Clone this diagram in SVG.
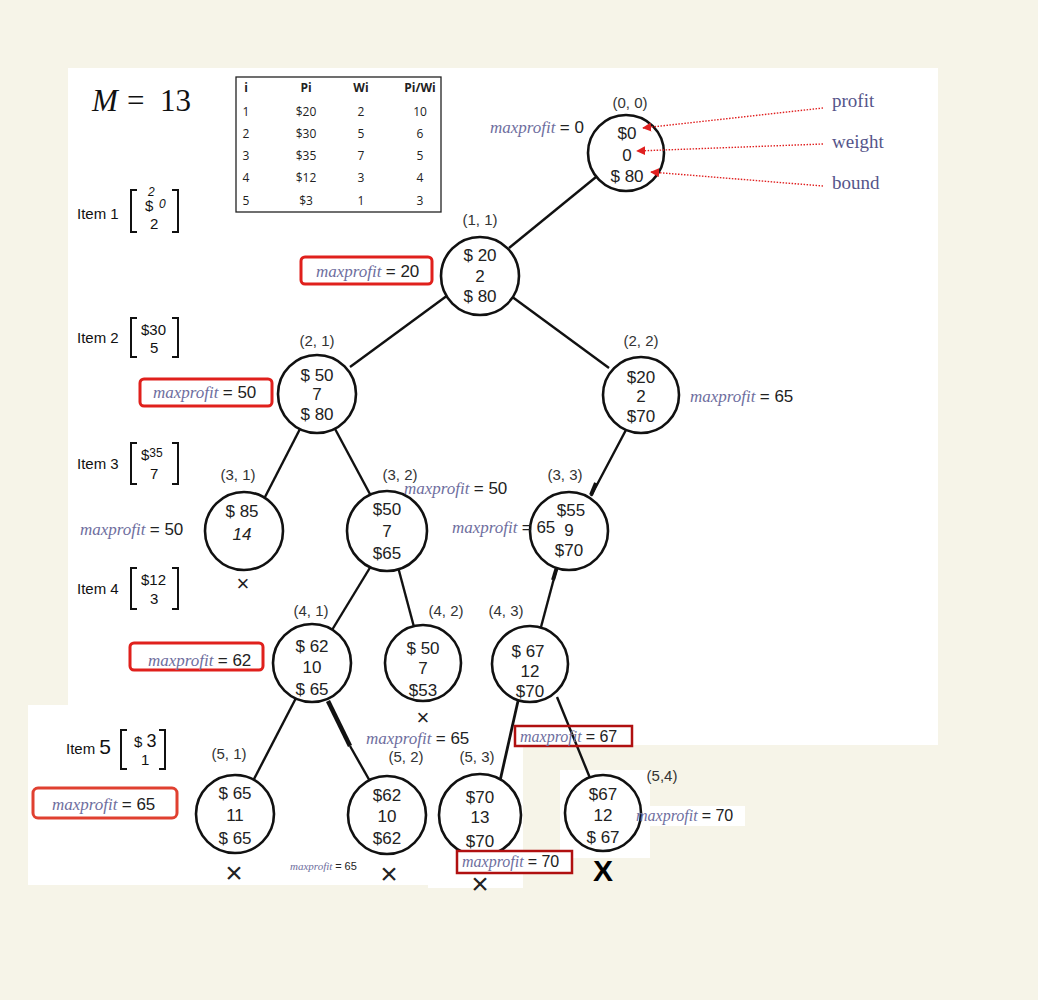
<svg xmlns="http://www.w3.org/2000/svg" width="1038" height="1000" viewBox="0 0 1038 1000">
<style>
.bg{fill:#f6f4e8}
.wh{fill:#ffffff}
.node circle{fill:#fff;stroke:#111;stroke-width:2.6}
.nt{font-family:"Liberation Sans",Arial,sans-serif;font-size:17px;text-anchor:middle;fill:#222}
.lbl{font-family:"Liberation Sans",Arial,sans-serif;font-size:15px;text-anchor:middle;fill:#333}
.mp{font-family:"Liberation Serif","Times New Roman",serif;font-style:italic;font-size:17px;fill:#6e6e9e}
.mp16{font-size:16px}
.mp11{font-size:11px}
.eq{font-family:"Liberation Sans",Arial,sans-serif;font-style:normal;fill:#222}
.box{fill:none;stroke:#e0201c;stroke-width:3}
.dbox{fill:none;stroke:#b01010;stroke-width:2.5}
.edges line{stroke:#111;stroke-width:2.4}
.arr{stroke:#e02020;stroke-width:1.4;stroke-dasharray:1.5 1.5;fill:none}
.tb{font-family:"Open Sans","Liberation Sans",sans-serif;font-size:12px;fill:#222;text-anchor:middle}
.tbh{font-weight:bold}
.item{font-family:"Liberation Sans",Arial,sans-serif;font-size:15px;fill:#111}
.sm{font-size:12px;font-style:italic}
.br{fill:none;stroke:#111;stroke-width:2}
.pw{font-family:"Liberation Serif","Times New Roman",serif;font-size:19px;fill:#55558a}
.x{font-family:"Liberation Sans",Arial,sans-serif;font-size:22px;text-anchor:middle;fill:#222}
.xl{font-size:30px}
.xb{font-size:30px;font-weight:bold;fill:#000}
.m13{font-family:"Liberation Serif","Times New Roman",serif;font-size:31px;fill:#111}
</style>
<defs>
<marker id="ah" viewBox="0 0 10 10" refX="9" refY="5" markerWidth="9" markerHeight="9" orient="auto" markerUnits="userSpaceOnUse">
<path d="M0,0 L10,5 L0,10 z" fill="#e02020"/>
</marker>
</defs>
<rect class="bg" x="0" y="0" width="1038" height="1000"/>
<rect class="wh" x="68" y="68" width="870" height="677"/>
<rect class="wh" x="28" y="705" width="400" height="180"/>
<rect class="wh" x="428" y="740" width="95" height="148"/>
<rect class="wh" x="560" y="770" width="90" height="88"/>
<rect class="wh" x="632" y="806" width="113" height="20"/>

<!-- M = 13 -->
<text class="m13" x="92" y="111"><tspan font-style="italic">M</tspan><tspan x="127">=</tspan><tspan x="160">13</tspan></text>

<!-- table -->
<g id="table">
<rect x="236" y="77" width="205" height="135" fill="#fff" stroke="#222" stroke-width="1.3"/>
<text class="tb tbh" x="246" y="92">i</text><text class="tb tbh" x="306" y="92">Pi</text><text class="tb tbh" x="361" y="92">Wi</text><text class="tb tbh" x="420" y="92">Pi/Wi</text>
<text class="tb" x="246" y="116">1</text><text class="tb" x="306" y="116">$20</text><text class="tb" x="361" y="116">2</text><text class="tb" x="420" y="116">10</text>
<text class="tb" x="246" y="138">2</text><text class="tb" x="306" y="138">$30</text><text class="tb" x="361" y="138">5</text><text class="tb" x="420" y="138">6</text>
<text class="tb" x="246" y="160">3</text><text class="tb" x="306" y="160">$35</text><text class="tb" x="361" y="160">7</text><text class="tb" x="420" y="160">5</text>
<text class="tb" x="246" y="182">4</text><text class="tb" x="306" y="182">$12</text><text class="tb" x="361" y="182">3</text><text class="tb" x="420" y="182">4</text>
<text class="tb" x="246" y="205">5</text><text class="tb" x="306" y="205">$3</text><text class="tb" x="361" y="205">1</text><text class="tb" x="420" y="205">3</text>
</g>

<!-- items -->
<g id="item1">
<text class="item" x="77" y="219">Item 1</text>
<path class="br" d="M137,190 H131 V232 H137 M172,190 H178 V232 H172"/>
<text class="item" x="145" y="211">$</text>
<text class="item sm" x="148" y="196">2</text>
<text class="item sm" x="159" y="208">0</text>
<text class="item" x="150" y="229">2</text>
</g>
<g id="item2">
<text class="item" x="77" y="343">Item 2</text>
<path class="br" d="M137,318 H131 V357 H137 M172,318 H178 V357 H172"/>
<text class="item" x="141" y="335">$30</text>
<text class="item" x="150" y="353">5</text>
</g>
<g id="item3">
<text class="item" x="77" y="469">Item 3</text>
<path class="br" d="M137,443 H131 V484 H137 M172,443 H178 V484 H172"/>
<text class="item" x="141" y="460">$<tspan style="font-size:12px" dy="-3">35</tspan></text>
<text class="item" x="150" y="479">7</text>
</g>
<g id="item4">
<text class="item" x="77" y="594">Item 4</text>
<path class="br" d="M137,568 H131 V609 H137 M172,568 H178 V609 H172"/>
<text class="item" x="141" y="585">$12</text>
<text class="item" x="150" y="604">3</text>
</g>
<g id="item5">
<text class="item" x="66" y="754">Item <tspan style="font-size:21px">5</tspan></text>
<path class="br" d="M127,730 H121 V769 H127 M159,730 H165 V769 H159"/>
<text class="item" x="134" y="747">$ <tspan style="font-size:18px">3</tspan></text>
<text class="item" x="141" y="765">1</text>
</g>

<!-- connectors -->
<g class="edges" id="connectors">
<line x1="596" y1="177" x2="509" y2="248"/>
<line x1="448" y1="295" x2="350" y2="367"/>
<line x1="511" y1="296" x2="609" y2="368"/>
<line x1="301" y1="427" x2="265" y2="497"/>
<line x1="334" y1="427" x2="371" y2="496"/>
<line x1="627" y1="428" x2="591" y2="496"/>
<line x1="596" y1="483" x2="591" y2="495" style="stroke-width:4"/>
<line x1="371" y1="566" x2="332" y2="630"/>
<line x1="398" y1="567" x2="414" y2="627"/>
<line x1="557" y1="567" x2="541" y2="627"/>
<line x1="557" y1="567" x2="553" y2="580" style="stroke-width:4"/>
<line x1="296" y1="698" x2="253" y2="781"/>
<line x1="328" y1="701" x2="350" y2="746" style="stroke-width:4.5"/>
<line x1="350" y1="746" x2="371" y2="783"/>
<line x1="518" y1="701" x2="500" y2="781" style="stroke-width:2.8"/>
<line x1="557" y1="697" x2="590" y2="778"/>
</g>

<!-- side labels -->
<text class="pw" x="832" y="107">profit</text>
<text class="pw" x="832" y="148">weight</text>
<text class="pw" x="832" y="189">bound</text>

<!-- nodes -->
<g class="node" id="n00"><circle cx="626" cy="153" r="38"/><text class="lbl" x="630" y="108">(0, 0)</text><text class="nt" x="627" y="139">$0</text><text class="nt" x="627" y="161">0</text><text class="nt" x="627" y="182">$ 80</text></g>
<g class="node" id="n11"><circle cx="480" cy="276" r="39"/><text class="lbl" x="480" y="225">(1, 1)</text><text class="nt" x="480" y="261">$ 20</text><text class="nt" x="480" y="282">2</text><text class="nt" x="480" y="302">$ 80</text></g>
<g class="node" id="n21"><circle cx="317" cy="394" r="39"/><text class="lbl" x="317" y="346">(2, 1)</text><text class="nt" x="317" y="381">$ 50</text><text class="nt" x="317" y="400">7</text><text class="nt" x="317" y="420">$ 80</text></g>
<g class="node" id="n22"><circle cx="641" cy="395" r="38"/><text class="lbl" x="641" y="346">(2, 2)</text><text class="nt" x="641" y="383">$20</text><text class="nt" x="641" y="402">2</text><text class="nt" x="641" y="422">$70</text></g>
<g class="node" id="n31"><circle cx="244" cy="531" r="39"/><text class="lbl" x="238" y="480">(3, 1)</text><text class="nt" x="242" y="517">$ 85</text><text class="nt" x="242" y="540" font-style="italic">14</text><text class="x" x="243" y="591">×</text></g>
<g class="node" id="n32"><circle cx="387" cy="531" r="40"/><text class="lbl" x="400" y="480">(3, 2)</text><text class="nt" x="387" y="515">$50</text><text class="nt" x="387" y="537">7</text><text class="nt" x="387" y="559">$65</text></g>
<g class="node" id="n33"><circle cx="569" cy="531" r="39"/><text class="lbl" x="565" y="480">(3, 3)</text><text class="nt" x="571" y="516">$55</text><text class="nt" x="569" y="536">9</text><text class="nt" x="569" y="556">$70</text></g>
<g class="node" id="n41"><circle cx="312" cy="663" r="39"/><text class="lbl" x="311" y="616">(4, 1)</text><text class="nt" x="312" y="652">$ 62</text><text class="nt" x="312" y="673">10</text><text class="nt" x="312" y="695">$ 65</text></g>
<g class="node" id="n42"><circle cx="423" cy="663" r="38"/><text class="lbl" x="446" y="616">(4, 2)</text><text class="nt" x="423" y="654">$ 50</text><text class="nt" x="423" y="674">7</text><text class="nt" x="423" y="696">$53</text><text class="x" x="423" y="725">×</text></g>
<g class="node" id="n43"><circle cx="530" cy="664" r="38"/><text class="lbl" x="506" y="616">(4, 3)</text><text class="nt" x="528" y="657">$ 67</text><text class="nt" x="530" y="677">12</text><text class="nt" x="530" y="697">$70</text></g>
<g class="node" id="n51"><circle cx="235" cy="814" r="39"/><text class="lbl" x="229" y="759">(5, 1)</text><text class="nt" x="235" y="799">$ 65</text><text class="nt" x="235" y="821">11</text><text class="nt" x="235" y="844">$ 65</text><text class="x xl" x="234" y="883">×</text></g>
<g class="node" id="n52"><circle cx="387" cy="815" r="39"/><text class="lbl" x="406" y="762">(5, 2)</text><text class="nt" x="387" y="801">$62</text><text class="nt" x="387" y="822">10</text><text class="nt" x="387" y="844">$62</text><text class="x xl" x="389" y="884">×</text></g>
<g class="node" id="n53"><text class="x xl" x="480" y="894">×</text><circle cx="480" cy="815" r="41"/><text class="lbl" x="477" y="762">(5, 3)</text><text class="nt" x="480" y="803">$70</text><text class="nt" x="480" y="823">13</text><text class="nt" x="480" y="847">$70</text></g>
<g class="node" id="n54"><circle cx="603" cy="813" r="38"/><text class="lbl" x="662" y="781">(5,4)</text><text class="nt" x="603" y="800">$67</text><text class="nt" x="603" y="821">12</text><text class="nt" x="603" y="843">$ 67</text><text class="x xb" x="603" y="881">X</text></g>

<!-- annotation pointers (drawn over the root node) -->
<g id="pointers">
<line class="arr" x1="823" y1="108" x2="643" y2="128" marker-end="url(#ah)"/>
<line class="arr" x1="823" y1="144" x2="637" y2="151" marker-end="url(#ah)"/>
<line class="arr" x1="823" y1="186" x2="651" y2="172" marker-end="url(#ah)"/>
</g>

<!-- maxprofit labels -->
<g id="maxprofit">
<text class="mp" x="490" y="133">maxprofit <tspan class="eq">= 0</tspan></text>
<rect class="box" x="301" y="257" width="131" height="27" rx="4"/>
<text class="mp" x="316" y="277">maxprofit <tspan class="eq">= 20</tspan></text>
<rect class="box" x="140" y="379" width="132" height="27" rx="4"/>
<text class="mp" x="153" y="398">maxprofit <tspan class="eq">= 50</tspan></text>
<text class="mp" x="690" y="402">maxprofit <tspan class="eq">= 65</tspan></text>
<text class="mp" x="80" y="535">maxprofit <tspan class="eq">= 50</tspan></text>
<text class="mp" x="404" y="494">maxprofit <tspan class="eq">= 50</tspan></text>
<text class="mp" x="452" y="533">maxprofit <tspan class="eq">= 65</tspan></text>
<rect class="box" x="130" y="643" width="133" height="27" rx="4"/>
<text class="mp" x="148" y="666">maxprofit <tspan class="eq">= 62</tspan></text>
<text class="mp" x="366" y="744">maxprofit <tspan class="eq">= 65</tspan></text>
<rect class="dbox" x="515" y="726" width="117" height="20"/>
<text class="mp mp16" x="520" y="742">maxprofit <tspan class="eq">= 67</tspan></text>
<rect class="box" x="33" y="788" width="144" height="30" rx="5" style="stroke:#e04030"/>
<text class="mp" x="52" y="810">maxprofit <tspan class="eq">= 65</tspan></text>
<text class="mp mp11" x="290" y="870">maxprofit <tspan class="eq">= 65</tspan></text>
<rect class="wh" x="457" y="851" width="115" height="22"/>
<rect class="dbox" x="457" y="851" width="115" height="22"/>
<text class="mp mp16" x="462" y="867">maxprofit <tspan class="eq">= 70</tspan></text>
<text class="mp mp16" x="636" y="821">maxprofit <tspan class="eq">= 70</tspan></text>
</g>
</svg>
